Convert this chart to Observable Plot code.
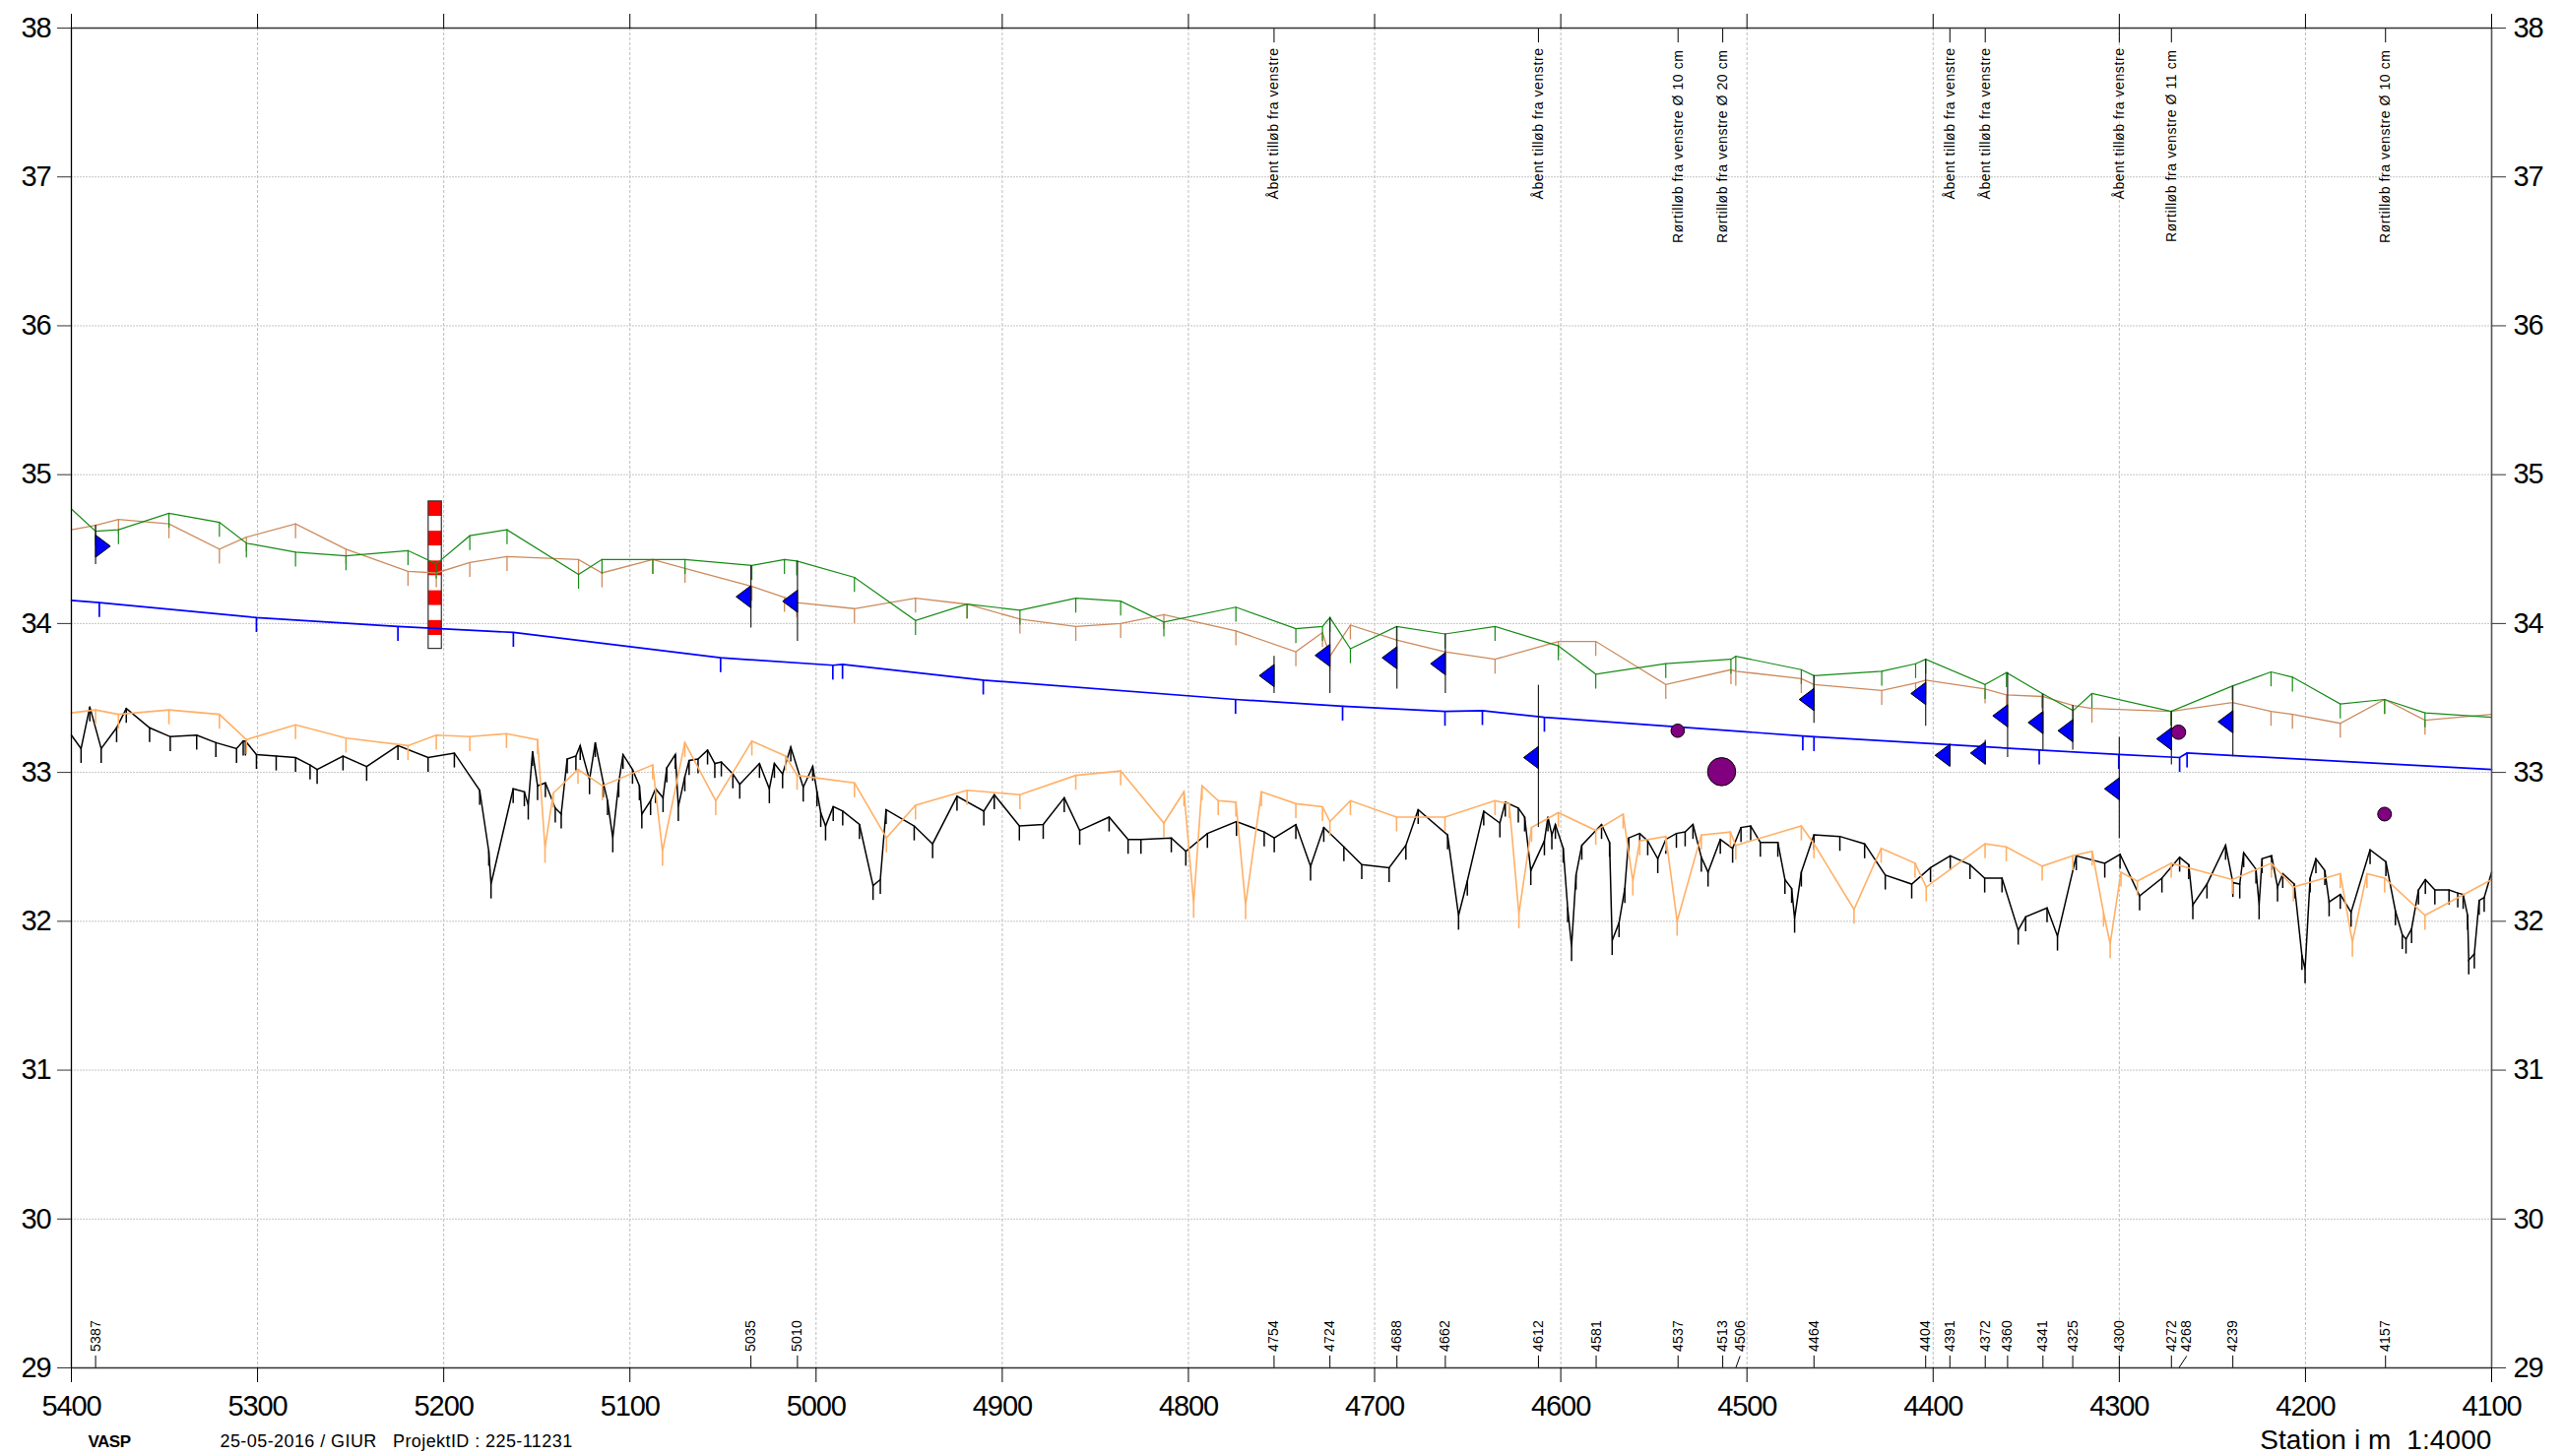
<!DOCTYPE html>
<html>
<head>
<meta charset="utf-8">
<script src="https://cdn.jsdelivr.net/npm/d3@7"></script>
<script src="https://cdn.jsdelivr.net/npm/@observablehq/plot@0.6"></script>
<style>
html,body{margin:0;padding:0;background:#fff}
.num{letter-spacing:-1.1px}
.small{letter-spacing:.25px}
.note{letter-spacing:.58px}
.foot{letter-spacing:-.5px}
.date{letter-spacing:.42px}
.station{letter-spacing:.1px}
</style>
</head>
<body>
<div id="chart"></div>
<script>
const xTicks = [5400,5300,5200,5100,5000,4900,4800,4700,4600,4500,4400,4300,4200,4100];
const yTicks = [29,30,31,32,33,34,35,36,37,38];

const greenLine = [[5400,34.77],[5387,34.62],[5374.7,34.63],[5347.6,34.74],[5320.5,34.68],[5306,34.54],[5279.6,34.48],[5252.5,34.455],[5219.2,34.49],[5204,34.40],[5186,34.59],[5166,34.63],[5127.6,34.33],[5115,34.43],[5087.7,34.43],[5070.4,34.43],[5034.5,34.39],[5017,34.43],[5010.4,34.42],[4979.4,34.31],[4946.6,34.02],[4918.9,34.13],[4890.5,34.09],[4860.5,34.17],[4836.4,34.15],[4813.2,34.01],[4774.5,34.11],[4742.3,33.965],[4728,33.98],[4724,34.04],[4713,33.83],[4688.2,33.98],[4662.2,33.93],[4635.3,33.98],[4601.3,33.85],[4581.2,33.66],[4543.6,33.73],[4508.6,33.76],[4506,33.78],[4470.8,33.69],[4464,33.65],[4427.6,33.68],[4409.4,33.73],[4404,33.76],[4372.1,33.59],[4360.6,33.67],[4341.4,33.53],[4324.8,33.415],[4314.7,33.53],[4272.2,33.41],[4239.3,33.58],[4218.5,33.675],[4207,33.64],[4181.3,33.46],[4157.5,33.49],[4135.8,33.40],[4100,33.37]];

const tanLine = [[5400,34.63],[5387,34.66],[5374.7,34.70],[5347.6,34.67],[5320.5,34.50],[5306,34.58],[5279.6,34.67],[5252.5,34.50],[5219.2,34.35],[5204,34.34],[5186,34.41],[5166,34.45],[5127.6,34.43],[5115,34.34],[5087.7,34.43],[5070.4,34.37],[5034.5,34.25],[5017,34.175],[5010.4,34.14],[4979.4,34.10],[4946.6,34.17],[4918.9,34.13],[4890.5,34.03],[4860.5,33.98],[4836.4,34.00],[4813.2,34.06],[4774.5,33.95],[4742.3,33.81],[4728,33.94],[4724,33.78],[4713,33.99],[4688.2,33.89],[4662.2,33.81],[4635.3,33.76],[4601.3,33.88],[4581.2,33.88],[4543.6,33.59],[4508.6,33.69],[4506,33.68],[4470.8,33.63],[4464,33.59],[4427.6,33.55],[4409.4,33.60],[4404,33.62],[4372.1,33.56],[4360.6,33.52],[4341.4,33.51],[4324.8,33.45],[4314.7,33.43],[4272.2,33.41],[4239.3,33.47],[4218.5,33.41],[4207,33.39],[4181.3,33.33],[4157.5,33.49],[4135.8,33.35],[4100,33.39]];

const blueLine = [[5400,34.155],[5385,34.14],[5300.6,34.04],[5224.6,33.98],[5162.6,33.94],[5051.3,33.77],[4991,33.72],[4985.8,33.725],[4910.2,33.62],[4774.7,33.49],[4717.2,33.445],[4662.2,33.41],[4642.1,33.415],[4608.8,33.37],[4470,33.245],[4464,33.24],[4343,33.15],[4300.3,33.12],[4267.6,33.10],[4263.6,33.13],[4100,33.02]];

const orangeLine = [[5400,33.40],[5387,33.42],[5374.7,33.39],[5347.6,33.42],[5320.5,33.39],[5306,33.22],[5279.6,33.32],[5252.5,33.23],[5219.2,33.18],[5204,33.25],[5186,33.24],[5166.3,33.26],[5149.6,33.22],[5145.6,32.49],[5141.2,32.86],[5127.9,33.02],[5114.8,32.91],[5087.8,33.05],[5082.5,32.47],[5070.5,33.20],[5053.9,32.81],[5034.5,33.21],[5016.4,33.11],[5010.2,32.98],[4979.4,32.93],[4962.2,32.56],[4946.6,32.78],[4918.9,32.88],[4890.5,32.85],[4860.5,32.98],[4836.4,33.01],[4813.2,32.66],[4802.4,32.87],[4797.2,32.12],[4792.7,32.91],[4784,32.81],[4774.5,32.80],[4769.3,32.11],[4760.8,32.87],[4742.3,32.79],[4728,32.77],[4724,32.67],[4713,32.81],[4688.2,32.70],[4662.2,32.70],[4635.3,32.81],[4627.7,32.79],[4622.5,32.05],[4615.7,32.63],[4601.3,32.73],[4581.2,32.61],[4566.5,32.72],[4561.3,32.27],[4557.6,32.54],[4543.6,32.57],[4537.5,32.0],[4524.5,32.58],[4508.9,32.60],[4506,32.51],[4470.8,32.64],[4464,32.52],[4442.5,32.08],[4427.9,32.49],[4409.7,32.39],[4403.7,32.23],[4372.1,32.52],[4360.7,32.50],[4341.4,32.37],[4325,32.44],[4314.6,32.47],[4308.5,32.06],[4304.9,31.85],[4299.1,32.33],[4290.3,32.27],[4272.1,32.39],[4239.3,32.28],[4218.3,32.39],[4206.5,32.23],[4181.3,32.32],[4174.8,31.86],[4167,32.32],[4157.5,32.29],[4135.8,32.04],[4100,32.28]];

const blackLine = [[5400,33.25],[5394.8,33.16],[5390.1,33.44],[5384,33.16],[5375.7,33.30],[5370.5,33.43],[5358,33.30],[5346.9,33.24],[5332.7,33.25],[5322.4,33.20],[5311.3,33.16],[5307.7,33.21],[5306.5,33.21],[5300.6,33.12],[5290,33.11],[5279.6,33.10],[5271.8,33.05],[5268,33.02],[5254.1,33.11],[5241.4,33.04],[5224.6,33.18],[5208.4,33.10],[5194.3,33.13],[5180.7,32.88],[5175.8,32.47],[5174.6,32.25],[5162.7,32.89],[5156.7,32.87],[5154.6,32.78],[5152.3,33.14],[5149.6,32.91],[5145.4,32.93],[5140.1,32.76],[5136.9,32.72],[5133.7,33.09],[5129,33.11],[5126.7,33.18],[5121.7,32.95],[5118.6,33.20],[5114.3,32.93],[5112,32.81],[5109.2,32.56],[5106,32.93],[5103.7,33.12],[5098.6,33.02],[5094.9,32.91],[5093.6,32.72],[5088.9,32.81],[5086.2,32.89],[5082.2,32.83],[5080.2,33.03],[5075.6,33.12],[5074,32.77],[5070.5,32.97],[5068.2,33.08],[5063.4,33.09],[5058.3,33.15],[5054.4,33.06],[5050.9,33.07],[5044.7,32.99],[5041,32.92],[5030.4,33.06],[5025.1,32.89],[5022.4,33.06],[5018,32.99],[5013.6,33.17],[5006.9,32.90],[5001.8,33.04],[4999.5,32.87],[4997.5,32.73],[4994.9,32.64],[4990.8,32.77],[4985.7,32.74],[4976.7,32.65],[4969.4,32.24],[4965.5,32.28],[4962.4,32.75],[4947.3,32.64],[4937.4,32.52],[4924.3,32.84],[4909.9,32.74],[4904.3,32.85],[4890.8,32.64],[4878,32.65],[4866.7,32.83],[4858.4,32.61],[4842.6,32.70],[4832.4,32.55],[4825.5,32.55],[4809.2,32.56],[4801.4,32.47],[4789.8,32.59],[4774.2,32.67],[4759.3,32.60],[4753.9,32.56],[4742.3,32.65],[4734.4,32.37],[4727.3,32.63],[4716.5,32.50],[4706.9,32.38],[4692.2,32.36],[4683.2,32.51],[4676.6,32.75],[4660.8,32.58],[4654.9,32.04],[4650.2,32.27],[4641.4,32.74],[4632.7,32.66],[4629.8,32.80],[4622.8,32.76],[4619.4,32.70],[4616.1,32.34],[4608.8,32.54],[4606.9,32.70],[4604.8,32.58],[4602.9,32.65],[4598.7,32.49],[4596.3,32.09],[4594.2,31.83],[4591.8,32.31],[4588.7,32.51],[4578.1,32.65],[4573.8,32.53],[4572.4,31.87],[4568.7,31.99],[4565.6,32.22],[4563.5,32.56],[4557.6,32.59],[4553.3,32.54],[4547.9,32.42],[4543.6,32.55],[4537.9,32.59],[4533.2,32.60],[4529,32.65],[4524.5,32.43],[4520.9,32.33],[4514.3,32.55],[4507.7,32.49],[4503.2,32.63],[4498,32.64],[4492.8,32.53],[4483.4,32.53],[4479.6,32.28],[4476,32.22],[4474.4,32.02],[4470.8,32.33],[4464,32.58],[4450.1,32.57],[4436.8,32.52],[4425.7,32.31],[4411.5,32.25],[4401.4,32.36],[4390.8,32.44],[4380.2,32.38],[4372.3,32.29],[4363,32.29],[4354.3,31.94],[4350.3,32.03],[4338.8,32.09],[4333.2,31.90],[4323.1,32.44],[4307.8,32.39],[4299.6,32.45],[4289.1,32.17],[4277.1,32.29],[4267.6,32.43],[4262.7,32.38],[4260.5,32.11],[4252.9,32.25],[4242.9,32.51],[4239,32.26],[4235.3,32.25],[4233.2,32.46],[4226.6,32.35],[4224.9,32.11],[4223.3,32.42],[4218.2,32.44],[4215,32.23],[4212.2,32.32],[4206,32.25],[4201.9,31.77],[4200.2,31.68],[4197.5,32.29],[4194.4,32.42],[4189.6,32.34],[4187.3,32.13],[4181.3,32.18],[4175.5,32.06],[4165.3,32.48],[4156.8,32.40],[4151.7,32.07],[4148,31.91],[4146,31.88],[4143,31.95],[4139.3,32.21],[4135.6,32.28],[4130.5,32.21],[4122.9,32.21],[4118.2,32.19],[4115.3,32.18],[4112.9,32.04],[4112.3,31.74],[4109.3,31.78],[4106.7,32.14],[4104,32.16],[4100,32.33]];

// station, flag centre, pole top, pole bottom
const flagsLeft = [[5035,34.18,34.39,33.97],[5010,34.15,34.42,33.88],[4754,33.65,33.78,33.53],[4724,33.786,34.04,33.53],[4688,33.77,33.98,33.56],[4662,33.73,33.93,33.53],[4612,33.10,33.585,32.63],[4464,33.49,33.65,33.33],[4404,33.53,33.76,33.31],[4391,33.115,33.19,33.04],[4372,33.13,33.215,33.05],[4360,33.38,33.67,33.10],[4341,33.335,33.525,33.15],[4325,33.28,33.45,33.15],[4300,32.89,33.235,32.555],[4272,33.225,33.41,33.05],[4239,33.34,33.58,33.105]];
const flagsRight = [[5387,34.52,34.66,34.396]];

// station, level, radius
const pipes = [[4537.2,33.28,6.8],[4513.6,33.005,14.3],[4268.2,33.27,7.3],[4157.5,32.72,7]];

const gaugeLevels = [34.82,34.72,34.62,34.52,34.42,34.32,34.22,34.12,34.02,33.92,33.83];
const gaugeColors = ["red","white","red","white","red","white","red","white","red","white"];
const gaugeLeft = 5208.1, gaugeRight = 5201;

const stationLabels = [5387,5035,5010,4754,4724,4688,4662,4612,4581,4537,4513,4506,4464,4404,4391,4372,4360,4341,4325,4300,4272,4268,4239,4157];
const shiftedLabels = {4506:2.3, 4268:4.2};

const openNotes = [4754,4612,4391,4372,4300];
const openNoteText = "Åbent tilløb fra venstre";
const pipeNotes = [[4537,"Rørtilløb fra venstre Ø 10 cm"],[4513,"Rørtilløb fra venstre Ø 20 cm"],[4272,"Rørtilløb fra venstre Ø 11 cm"],[4157,"Rørtilløb fra venstre Ø 10 cm"]];
const footerLeft = "VASP";
const footerMiddle = "25-05-2016 / GIUR\u00a0\u00a0\u00a0ProjektID : 225-11231";
const footerRight = "Station i m\u00a0\u00a01:4000";

const stemDrop = 0.1;
const sx = d => d[0], sy = d => d[1];
function profile(points, color, width) {
  const inner = points.slice(1, -1);
  return [
    Plot.ruleX(inner, {x: sx, y1: sy, y2: d => d[1] - stemDrop, stroke: color, strokeWidth: width}),
    Plot.line(points, {x: sx, y: sy, stroke: color, strokeWidth: width, strokeLinejoin: "miter", strokeMiterlimit: 4})
  ];
}
function flagSymbol(dir) {
  return {draw(ctx, size) {
    const r = Math.sqrt(size / Math.PI);
    ctx.moveTo(0, -r);
    ctx.lineTo(dir * r * 1.33, 0);
    ctx.lineTo(0, r);
    ctx.closePath();
  }};
}
const gaugeSegments = gaugeColors.map((c, i) => ({c, top: gaugeLevels[i], bottom: gaugeLevels[i + 1]}));
const gaugeFrame = [{top: gaugeLevels[0], bottom: gaugeLevels[gaugeLevels.length - 1]}];
const flags = [...flagsLeft, ...flagsRight];
const allNotes = [...openNotes, ...pipeNotes.map(d => d[0])];

const chart = Plot.plot({
  width: 2605, height: 1479,
  marginLeft: 72, marginRight: 75, marginTop: 28, marginBottom: 90,
  style: {fontFamily: "'Liberation Sans', Arial, sans-serif", background: "#fff", color: "#000"},
  x: {domain: [5400, 4100], ticks: xTicks, label: null},
  y: {domain: [29, 38], ticks: yTicks, label: null},
  r: {type: "identity"},
  marks: [
    Plot.gridX(xTicks, {stroke: "#bdbdbd", strokeOpacity: 1, strokeDasharray: "3,2"}),
    Plot.gridY(yTicks, {stroke: "#c4c4c4", strokeOpacity: 1, strokeDasharray: "2,1"}),

    Plot.rect(gaugeSegments, {x1: () => gaugeLeft, x2: () => gaugeRight, y1: d => d.bottom, y2: d => d.top, fill: d => d.c}),
    Plot.rect(gaugeFrame, {x1: () => gaugeLeft, x2: () => gaugeRight, y1: d => d.bottom, y2: d => d.top, fill: "none", stroke: "#333", strokeWidth: 1.2}),

    ...profile(blackLine, "#000", 1.5),
    ...profile(orangeLine, "#ffb066", 1.6),
    ...profile(tanLine, "#cc8a5c", 1.3),
    ...profile(greenLine, "#158a15", 1.2),
    ...profile(blueLine, "#0000ff", 1.7),

    Plot.ruleX(flags, {x: sx, y1: d => d[2], y2: d => d[3], stroke: "#222", strokeWidth: 1.2}),
    Plot.dot(flagsLeft, {x: sx, y: sy, r: 11.3, symbol: () => flagSymbol(-1), fill: "#0000ff", stroke: "#000", strokeWidth: 1}),
    Plot.dot(flagsRight, {x: sx, y: sy, r: 11.3, symbol: () => flagSymbol(1), fill: "#0000ff", stroke: "#000", strokeWidth: 1}),
    Plot.dot(pipes, {x: sx, y: sy, r: d => d[2], fill: "#800080", stroke: "#000", strokeWidth: 1}),

    Plot.ruleX(stationLabels.filter(s => !shiftedLabels[s]), {x: d => d, y1: () => 29, y2: () => 29.08, stroke: "#000", strokeWidth: 1}),
    Plot.link(stationLabels.filter(s => shiftedLabels[s]), {x1: d => d, x2: d => d - shiftedLabels[d], y1: () => 29, y2: () => 29.08, stroke: "#000", strokeWidth: 1}),
    Plot.text(stationLabels, {x: d => d - (shiftedLabels[d] || 0), y: () => 29, dy: -16.5, text: d => String(d), rotate: -90, textAnchor: "start", lineAnchor: "middle", fontSize: 14, fill: "#000", className: "small"}),

    Plot.ruleX(allNotes, {x: d => d, y1: () => 38, y2: () => 37.9, stroke: "#000", strokeWidth: 1}),
    Plot.text(openNotes, {x: d => d, y: () => 38, dy: 20, text: () => openNoteText, rotate: -90, textAnchor: "end", lineAnchor: "middle", fontSize: 14, fill: "#000", className: "note"}),
    Plot.text(pipeNotes, {x: sx, y: () => 38, dy: 22, text: d => d[1], rotate: -90, textAnchor: "end", lineAnchor: "middle", fontSize: 14, fill: "#000", className: "note"}),

    Plot.ruleX([5400], {stroke: "#000", strokeWidth: 1.3}),
    Plot.ruleX([4100], {stroke: "#555", strokeWidth: 1.6}),
    Plot.ruleY([29], {stroke: "#333", strokeWidth: 1.5}),
    Plot.ruleY([38], {stroke: "#333", strokeWidth: 1.5}),

    Plot.axisX({anchor: "bottom", ticks: xTicks, tickSize: 15, tickPadding: 13, tickFormat: d => String(d), fontSize: 29, label: null, className: "num", stroke: "#000"}),
    Plot.axisX({anchor: "top", ticks: xTicks, tickSize: 15, tickFormat: () => "", label: null, stroke: "#000"}),
    Plot.axisY({anchor: "left", ticks: yTicks, tickSize: 14, tickPadding: 7, fontSize: 29, label: null, className: "num", stroke: "#333"}),
    Plot.axisY({anchor: "right", ticks: yTicks, tickSize: 14, tickPadding: 8, fontSize: 29, label: null, className: "num", stroke: "#333"}),

    Plot.text([footerLeft], {frameAnchor: "bottom-left", dx: 17, dy: 80, text: d => d, textAnchor: "start", fontSize: 17, fontWeight: "bold", fill: "#000", className: "foot"}),
    Plot.text([footerMiddle], {frameAnchor: "bottom-left", dx: 151, dy: 80, text: d => d, textAnchor: "start", fontSize: 18, fill: "#000", className: "date"}),
    Plot.text([footerRight], {frameAnchor: "bottom-right", dx: 0, dy: 82, text: d => d, textAnchor: "end", fontSize: 28, fill: "#000", className: "station"})
  ]
});
document.getElementById("chart").appendChild(chart);
</script>
</body>
</html>
